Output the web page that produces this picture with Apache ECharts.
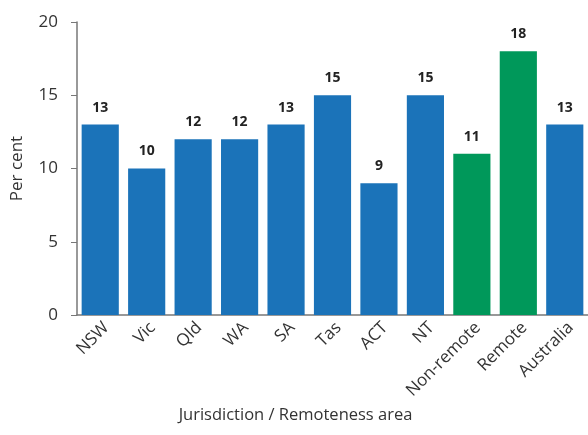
<!DOCTYPE html>
<html><head><meta charset="utf-8">
<script src="https://cdn.jsdelivr.net/npm/echarts@6/dist/echarts.min.js"></script>
<style>html,body{margin:0;padding:0;background:#fff}#c{width:588px;height:435px}</style>
</head><body><div id="c"></div>
<script>
const categories = ['NSW','Vic','Qld','WA','SA','Tas','ACT','NT','Non-remote','Remote','Australia'];
const values = [13,10,12,12,13,15,9,15,11,18,13];
const groups = ['j','j','j','j','j','j','j','j','r','r','j'];
const yTicks = [0,5,10,15,20];
const colors = {j:'#1b73b9', r:'#00985a'};
const font = '"Open Sans", "Liberation Sans", sans-serif';
const chart = echarts.init(document.getElementById('c'));
chart.setOption({
  animation:false,
  grid:{left:77, top:22, width:516, height:293, containLabel:false},
  xAxis:{type:'category', data:categories,
    name:'Jurisdiction / Remoteness area', nameLocation:'middle', nameGap:88,
    nameTextStyle:{fontFamily:font, fontSize:16.5, color:'#333', padding:[0,0,0,-74]},
    axisLine:{lineStyle:{color:'#777', width:1.5}}, axisTick:{show:false},
    axisLabel:{rotate:45, interval:0, fontFamily:font, fontSize:17, color:'#333', margin:4, verticalAlign:'top'}},
  yAxis:{type:'value', min:yTicks[0], max:yTicks[yTicks.length-1], interval:5,
    name:'Per cent', nameLocation:'middle', nameGap:51,
    nameTextStyle:{fontFamily:font, fontSize:17, color:'#333'},
    axisLine:{show:true, lineStyle:{color:'#777', width:1.5}},
    axisTick:{show:true, inside:false, length:6, lineStyle:{color:'#777'}},
    splitLine:{show:false},
    axisLabel:{fontFamily:font, fontSize:17, color:'#333', margin:19}},
  series:[{type:'bar', barCategoryGap:'20%',
    data: values.map((v,i)=>({value:v, itemStyle:{color:colors[groups[i]]}})),
    label:{show:true, position:'top', distance:10, fontFamily:font, fontSize:14, fontWeight:'bold', color:'#222'}}]
});
</script></body></html>
